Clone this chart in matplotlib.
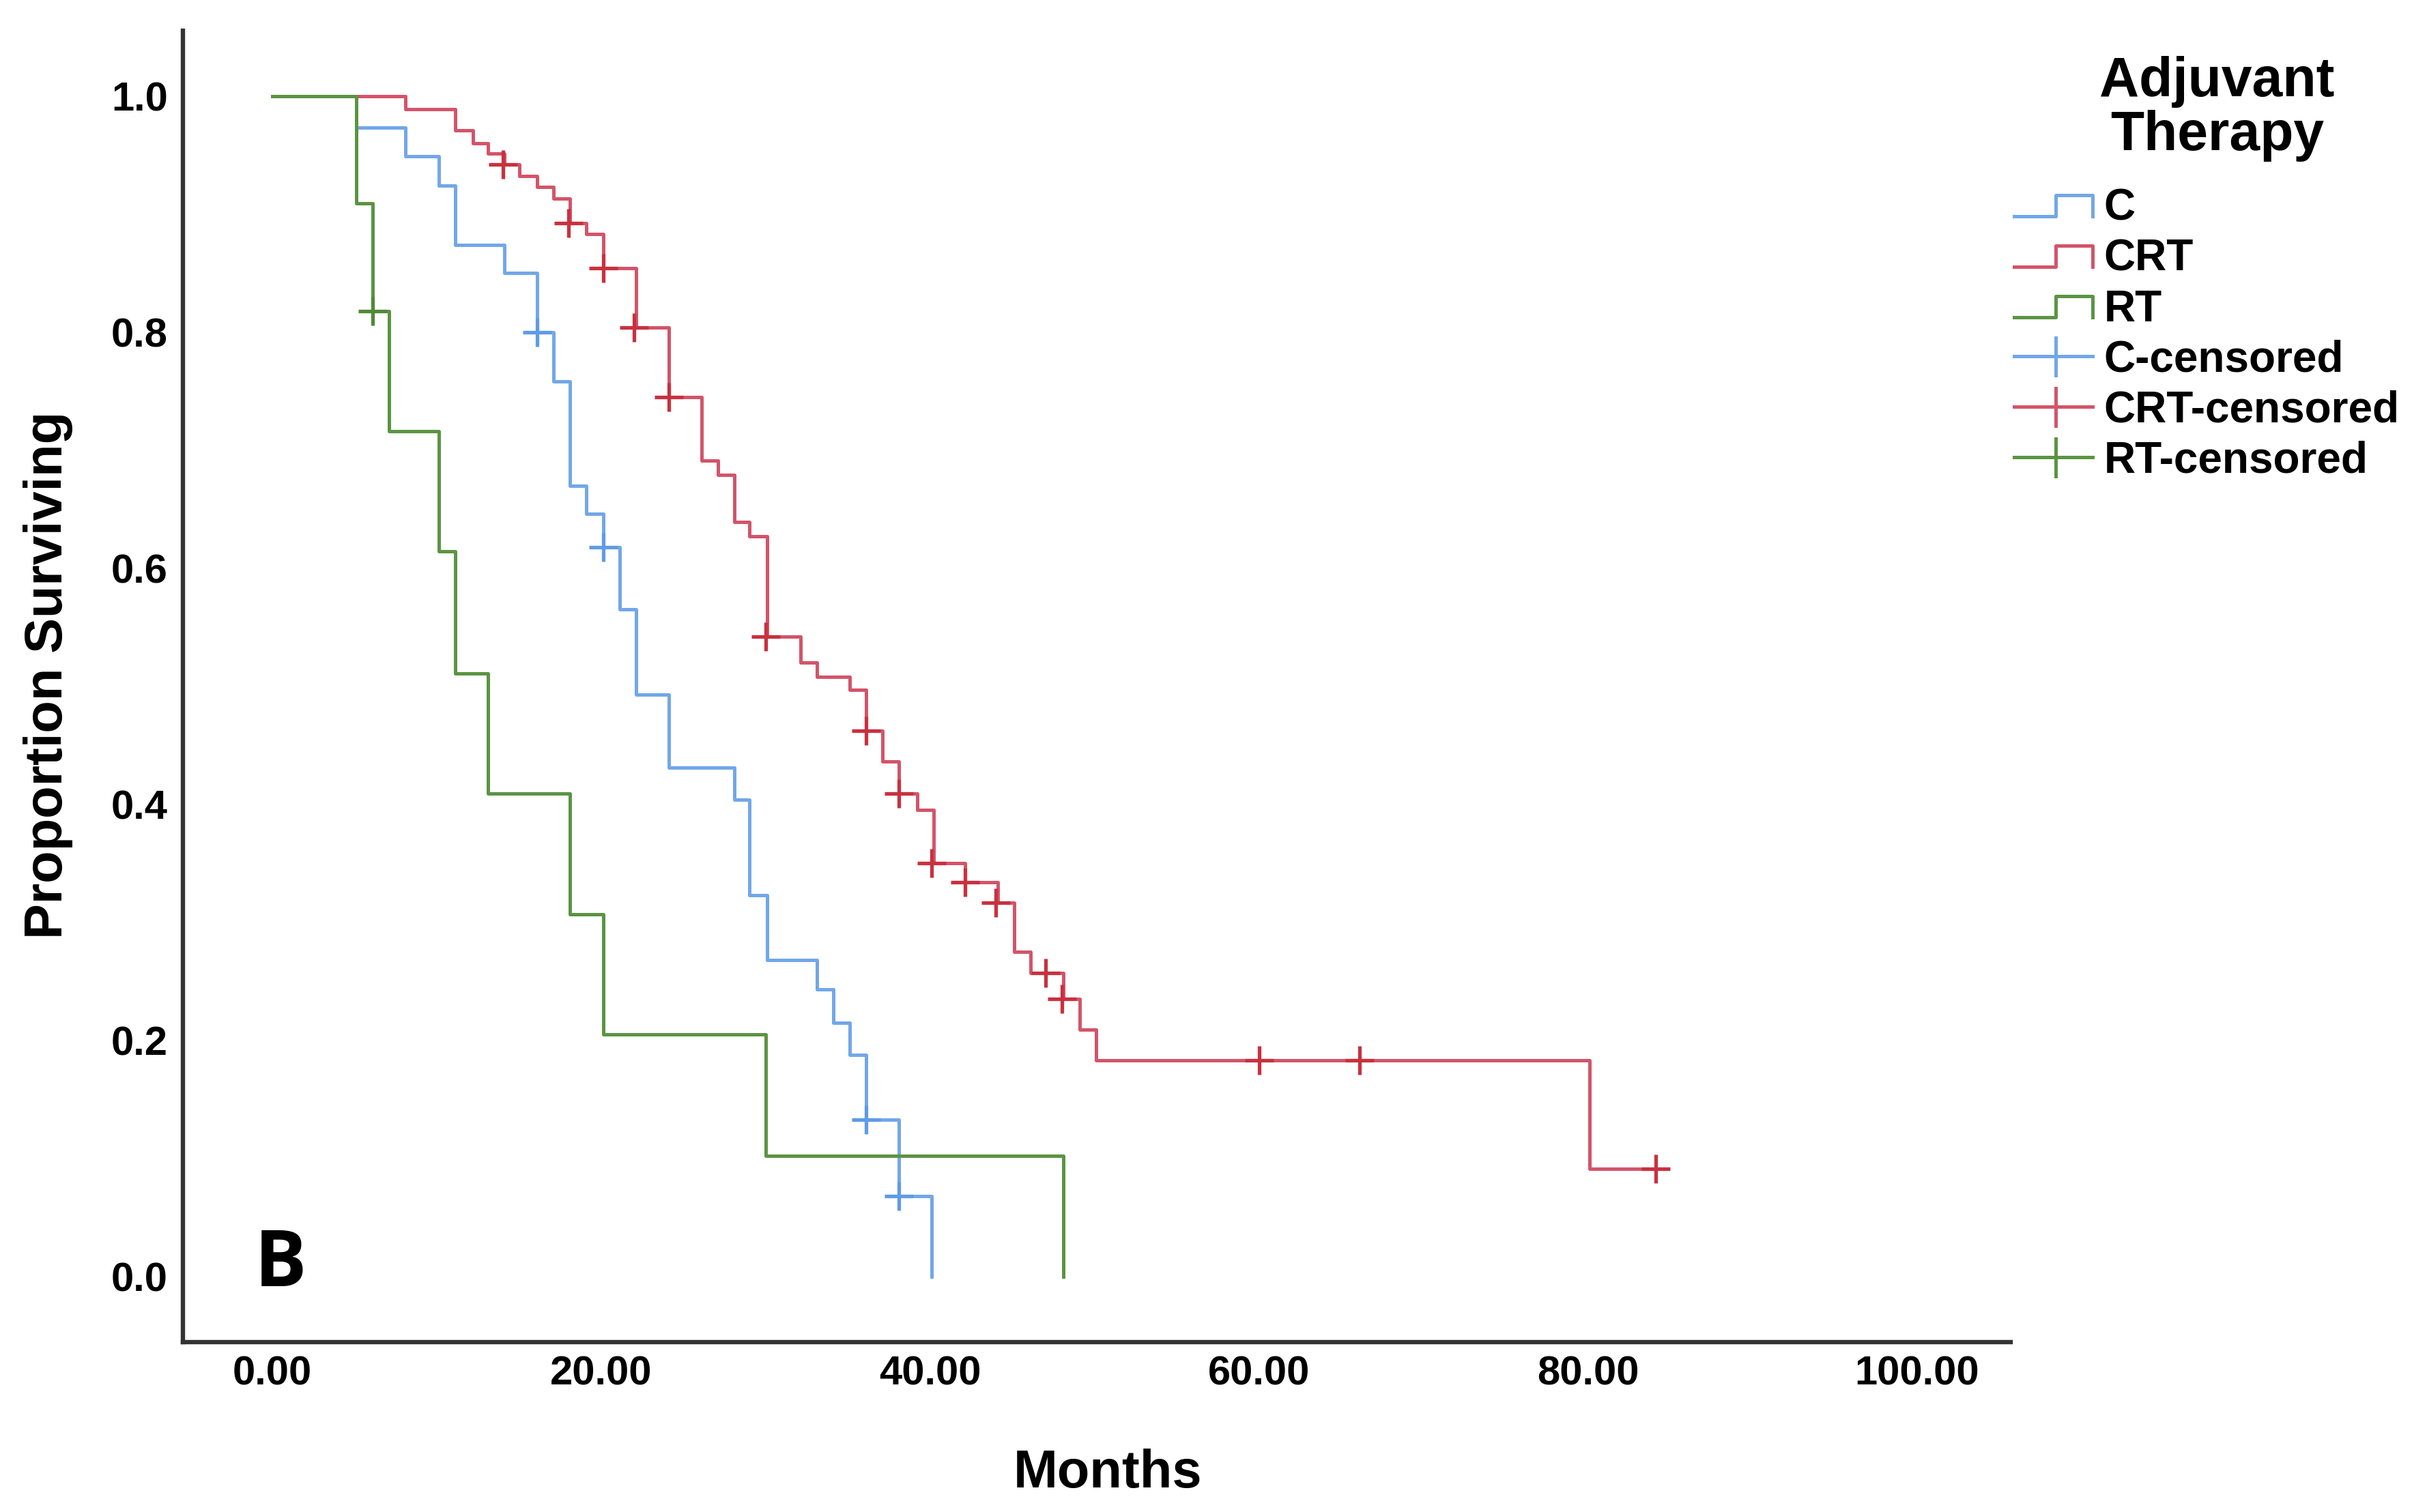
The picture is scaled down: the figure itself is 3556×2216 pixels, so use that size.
import matplotlib
matplotlib.use('Agg')
import matplotlib.pyplot as plt
from matplotlib.lines import Line2D
from matplotlib.legend_handler import HandlerBase

# ---------------- data ----------------
groups = ['C', 'CRT', 'RT']
censor_labels = ['C-censored', 'CRT-censored', 'RT-censored']
legend_title = 'Adjuvant\nTherapy'

c_times = [0, 5.1, 8.1, 10.1, 11.1, 14.1, 16.1, 17.1, 18.1, 19.1, 20.1, 21.1,
           22.1, 24.1, 28.1, 29.0, 30.1, 33.1, 34.1, 35.1, 36.1, 38.1, 40.1]
c_surv = [1.0, 0.973, 0.949, 0.924, 0.874, 0.850, 0.800, 0.758, 0.670, 0.646,
          0.618, 0.565, 0.493, 0.431, 0.404, 0.323, 0.268, 0.243, 0.215, 0.188,
          0.133, 0.068, 0.0]
c_cens_t = [16.1, 20.1, 36.1, 38.1]
c_cens_s = [0.800, 0.618, 0.133, 0.068]

crt_times = [0, 8.1, 11.1, 12.2, 13.1, 14.1, 15.0, 16.1, 17.1, 18.1, 19.1, 20.1,
             22.1, 24.1, 26.1, 27.1, 28.1, 29.0, 30.1, 32.1, 33.1, 35.1, 36.1,
             37.1, 38.1, 39.2, 40.2, 42.1, 44.1, 45.1, 46.1, 48.1, 49.1, 50.1,
             80.1, 84.1]
crt_surv = [1.0, 0.989, 0.971, 0.960, 0.951, 0.942, 0.932, 0.923, 0.913, 0.892,
            0.883, 0.854, 0.804, 0.745, 0.691, 0.679, 0.639, 0.627, 0.542, 0.520,
            0.508, 0.497, 0.4625, 0.4365, 0.409, 0.395, 0.350, 0.334, 0.3165,
            0.275, 0.257, 0.235, 0.209, 0.183, 0.091, 0.091]
crt_cens_t = [14.0, 18.0, 20.1, 22.0, 24.1, 30.0, 36.1, 38.1, 40.1, 42.1, 44.0,
              47.0, 48.0, 60.0, 66.1, 84.1]
crt_cens_s = [0.942, 0.892, 0.854, 0.804, 0.745, 0.542, 0.4625, 0.409, 0.350,
              0.334, 0.3165, 0.257, 0.235, 0.183, 0.183, 0.091]

rt_times = [0, 5.1, 6.1, 7.1, 10.1, 11.1, 13.1, 18.1, 20.1, 30.0, 48.1]
rt_surv = [1.0, 0.909, 0.818, 0.716, 0.614, 0.511, 0.409, 0.307, 0.205, 0.102, 0.0]
rt_cens_t = [6.1]
rt_cens_s = [0.818]

x_ticks = [0, 20, 40, 60, 80, 100]
x_tick_labels = ['0.00', '20.00', '40.00', '60.00', '80.00', '100.00']
y_ticks = [0.0, 0.2, 0.4, 0.6, 0.8, 1.0]
y_tick_labels = ['0.0', '0.2', '0.4', '0.6', '0.8', '1.0']

# ---------------- style ----------------
line_colors = {'C': '#72a7e8', 'CRT': '#d35469', 'RT': '#5b9443'}
mark_colors = {'C': '#5f9be6', 'CRT': '#c8313f', 'RT': '#4f8a38'}
LW = 1.8

plt.rcParams['font.family'] = ['Liberation Sans', 'DejaVu Sans']

fig = plt.figure(figsize=(17.78, 11.08), dpi=200)
ax = fig.add_axes([0.0754, 0.1124, 0.7531, 0.8671])

series = {
    'C': (c_times, c_surv, c_cens_t, c_cens_s),
    'CRT': (crt_times, crt_surv, crt_cens_t, crt_cens_s),
    'RT': (rt_times, rt_surv, rt_cens_t, rt_cens_s),
}
for g in groups:
    t, s, ct, cs = series[g]
    ax.step(t, s, where='post', color=line_colors[g], lw=LW, zorder=2)
    ax.plot(ct, cs, ls='none', marker='+', ms=15, mew=1.9,
            color=mark_colors[g], zorder=3)

ax.set_xlim(-5.44, 105.7)
ax.set_ylim(-0.0555, 1.055)
ax.set_xticks(x_ticks)
ax.set_xticklabels(x_tick_labels, fontsize=21.5, fontweight='bold')
ax.set_yticks(y_ticks)
ax.set_yticklabels(y_tick_labels, fontsize=21.5, fontweight='bold')
ax.tick_params(axis='both', length=0)
ax.tick_params(axis='x', pad=7)
ax.tick_params(axis='y', pad=8)

for side in ['top', 'right']:
    ax.spines[side].set_visible(False)
for side in ['left', 'bottom']:
    ax.spines[side].set_linewidth(2.3)
    ax.spines[side].set_color('#333333')

ax.set_xlabel('Months', fontsize=28, fontweight='bold')
ax.xaxis.set_label_coords(0.506, -0.081)
ax.set_ylabel('Proportion Surviving', fontsize=28, fontweight='bold')
ax.yaxis.set_label_coords(-0.0600, 0.509)

ax.text(-1.1, -0.008, 'B', fontsize=41, fontweight='bold',
        family=['Open Sans', 'DejaVu Sans'], ha='left', va='baseline')


# ---------------- legend ----------------
class StepHandler(HandlerBase):
    def create_artists(self, legend, orig_handle, xdescent, ydescent,
                       width, height, fontsize, trans):
        x0, y0 = -xdescent, -ydescent
        xm = x0 + 0.53 * width
        lo = y0 + 0.12 * height
        hi = y0 + 0.82 * height
        ln = Line2D([x0, xm, xm, x0 + width, x0 + width], [lo, lo, hi, hi, lo],
                    color=orig_handle.get_color(), lw=orig_handle.get_linewidth(),
                    transform=trans)
        return [ln]


class CensorHandler(HandlerBase):
    def create_artists(self, legend, orig_handle, xdescent, ydescent,
                       width, height, fontsize, trans):
        x0, y0 = -xdescent, -ydescent
        xm = x0 + 0.53 * width
        ym = y0 + 0.5 * height
        h = Line2D([x0, x0 + width], [ym, ym], color=orig_handle.get_color(),
                   lw=orig_handle.get_linewidth(), transform=trans)
        v = Line2D([xm, xm], [ym - 0.62 * height, ym + 0.62 * height],
                   color=orig_handle.get_color(), lw=orig_handle.get_linewidth(),
                   transform=trans)
        return [h, v]


step_handles = [Line2D([], [], color=line_colors[g], lw=LW) for g in groups]
cens_handles = [Line2D([], [], color=line_colors[g], lw=LW) for g in groups]
hmap = {}
for h in step_handles:
    hmap[h] = StepHandler()
for h in cens_handles:
    hmap[h] = CensorHandler()

leg = ax.legend(step_handles + cens_handles, groups + censor_labels,
                handler_map=hmap, loc='upper left',
                bbox_to_anchor=(0.8300, 0.8757), bbox_transform=fig.transFigure,
                frameon=False, prop={'weight': 'bold', 'size': 23},
                handlelength=1.80, handletextpad=0.25, labelspacing=0.22,
                borderpad=0, borderaxespad=0)

fig.text(0.9135, 0.9280, legend_title, ha='center', va='center',
         multialignment='center', fontsize=29, fontweight='bold',
         linespacing=1.04)

fig.savefig('out.png', dpi=200, facecolor='white')
